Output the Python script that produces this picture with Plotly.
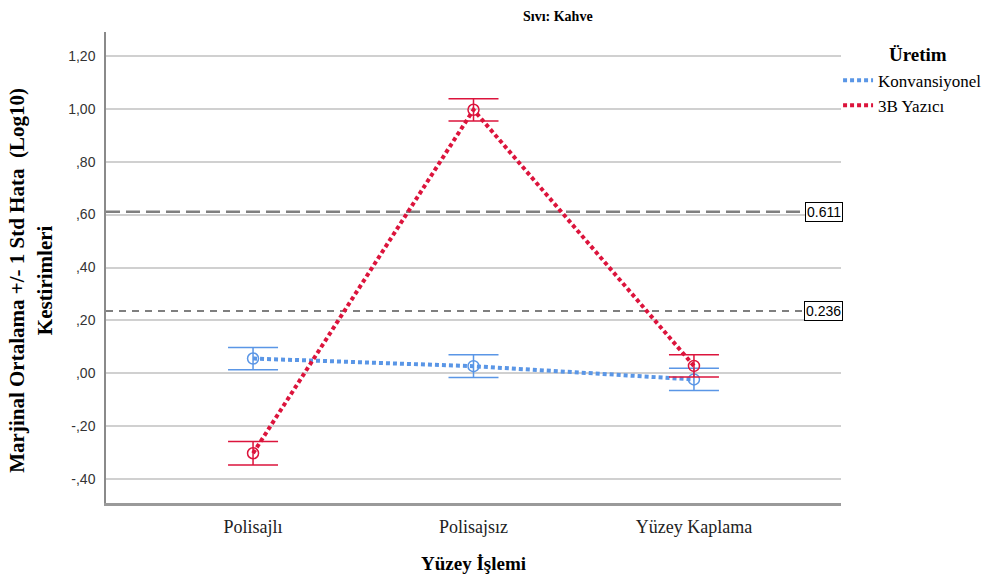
import plotly.graph_objects as go

# Marginal means (Log10) and standard errors per surface treatment
categories = ["Polisajlı", "Polisajsız", "Yüzey Kaplama"]
konv_mean = [0.056, 0.027, -0.023]
konv_se = [0.042, 0.043, 0.042]
yazici_mean = [-0.302, 0.996, 0.028]
yazici_se = [0.044, 0.042, 0.042]

series_names = ["Konvansiyonel", "3B Yazıcı"]
series_colors = ["#5a96e6", "#dc143c"]

ref_values = [0.611, 0.236]
ref_labels = ["0.611", "0.236"]
ref_dashes = ["14px,6px", "7px,6px"]
ref_widths = [2.5, 2]

y_tickvals = [-0.4, -0.2, 0.0, 0.2, 0.4, 0.6, 0.8, 1.0, 1.2]
y_ticktext = ["-,40", "-,20", ",00", ",20", ",40", ",60", ",80", "1,00", "1,20"]

SERIF = "Liberation Serif"
SANS = "Liberation Sans"

fig = go.Figure()

for name, color, means, ses in [
    (series_names[0], series_colors[0], konv_mean, konv_se),
    (series_names[1], series_colors[1], yazici_mean, yazici_se),
]:
    # dotted connecting line (also used for the legend entry)
    fig.add_trace(go.Scatter(
        x=categories, y=means, mode="lines", name=name,
        line=dict(color=color, width=4, dash="4px,3px"),
        showlegend=True,
    ))
    # open-circle means with +/- 1 SE bars
    fig.add_trace(go.Scatter(
        x=categories, y=means, mode="markers", name=name,
        marker=dict(symbol="circle-open", size=11, color=color,
                    line=dict(width=1.5, color=color)),
        error_y=dict(type="data", array=ses, visible=True,
                     color=color, thickness=1.5, width=25),
        showlegend=False,
    ))

shapes = []
annotations = []
for val, lab, dash, w in zip(ref_values, ref_labels, ref_dashes, ref_widths):
    shapes.append(dict(type="line", xref="paper", yref="y", x0=0, x1=1,
                       y0=val, y1=val, layer="below",
                       line=dict(color="#7f7f7f", width=w, dash=dash)))
    annotations.append(dict(xref="paper", yref="y", x=1.003, y=val,
                            xanchor="right", yanchor="middle", text=lab,
                            showarrow=False, bgcolor="white",
                            bordercolor="black", borderwidth=1, borderpad=1,
                            font=dict(family=SANS, size=14, color="black")))

# chart title
annotations.append(dict(xref="paper", yref="paper", x=0.615, y=1.032,
                        xanchor="center", yanchor="middle", showarrow=False,
                        text="Sıvı: Kahve",
                        font=dict(family=SERIF, size=14, color="black", weight="bold")))
# legend heading
annotations.append(dict(xref="paper", yref="paper", x=1.105, y=0.953,
                        xanchor="center", yanchor="middle", showarrow=False,
                        text="Üretim",
                        font=dict(family=SERIF, size=19, color="black", weight="bold")))
# y-axis title
annotations.append(dict(xref="paper", yref="paper", x=-0.1027, y=0.473,
                        xanchor="center", yanchor="middle", showarrow=False,
                        textangle=-90,
                        text="Marjinal Ortalama +/- 1 Std Hata  (Log10)<br>Kestirimleri",
                        font=dict(family=SERIF, size=21, color="black", weight="bold")))
# x-axis title
annotations.append(dict(xref="paper", yref="paper", x=0.5, y=-0.1274,
                        xanchor="center", yanchor="middle", showarrow=False,
                        text="Yüzey İşlemi",
                        font=dict(family=SERIF, size=19, color="black", weight="bold")))

fig.update_layout(
    width=1000, height=581,
    margin=dict(l=106, r=159, t=32, b=78),
    paper_bgcolor="white", plot_bgcolor="white",
    shapes=shapes, annotations=annotations,
    legend=dict(x=0.996, y=0.935, xanchor="left", yanchor="top",
                font=dict(family=SERIF, size=17, color="black"),
                bgcolor="rgba(0,0,0,0)", tracegroupgap=0),
    xaxis=dict(range=[-0.667, 2.667], showgrid=False, zeroline=False,
               showline=True, linecolor="#9a9a9a", linewidth=2.5,
               ticks="", tickfont=dict(family=SERIF, size=18, color="#222"),
               ticklabelstandoff=6),
    yaxis=dict(range=[-0.49, 1.29], tickvals=y_tickvals, ticktext=y_ticktext,
               showgrid=True, gridcolor="#d0d0d0", gridwidth=1.5,
               zeroline=False, showline=True, linecolor="#8a8a8a", linewidth=1.5,
               ticks="", tickfont=dict(family=SANS, size=14, color="#333"),
               ticklabelstandoff=6),
)

fig.write_html("out.html")
